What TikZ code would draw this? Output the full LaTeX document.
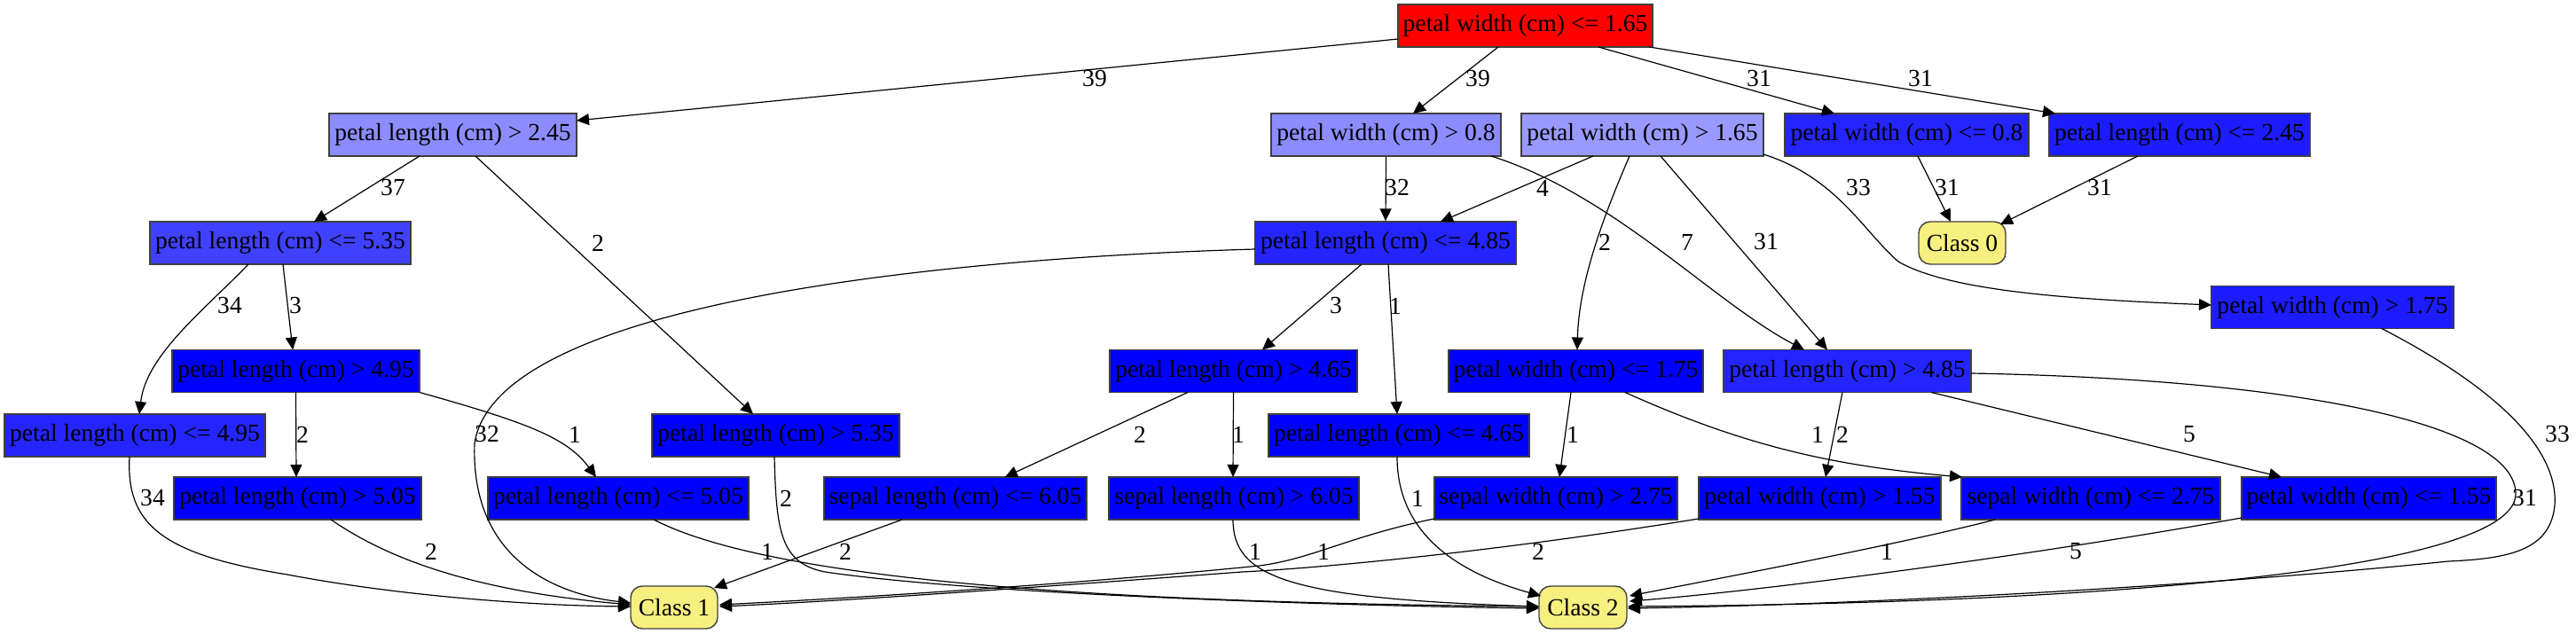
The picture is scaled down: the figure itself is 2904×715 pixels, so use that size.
\documentclass[tikz,border=0pt]{standalone}
\usepackage{fontspec}
\setmainfont{Liberation Serif}
\usetikzlibrary{arrows.meta,calc}
\definecolor{cred}{HTML}{FF0000}
\definecolor{clpa}{HTML}{8C8CFF}
\definecolor{clpb}{HTML}{9999FF}
\definecolor{cbfour}{HTML}{4040FF}
\definecolor{cbtwo}{HTML}{2424FF}
\definecolor{cbone}{HTML}{1C1CFF}
\definecolor{cbzero}{HTML}{0000FF}
\definecolor{clsy}{HTML}{F7EF80}
\begin{document}
\begin{tikzpicture}[x=0.5pt,y=-0.5pt,
  tbox/.style={draw=black!75, line width=0.7pt, minimum height=24pt, inner sep=0pt, font=\fontsize{13.8}{16}\selectfont, text=black},
  cls/.style={tbox, fill=clsy, rounded corners=6.5pt},
  wd/.style={minimum width=#1*0.5pt},
  edge/.style={draw=black, line width=0.6pt, -{Triangle[length=7pt,width=6.5pt]}},
  lbl/.style={font=\fontsize{13.8}{16}\selectfont, inner sep=0pt}]
\useasboundingbox (0,0) rectangle (2904,715);
% nodes
\node[tbox, fill=cred, wd=287] (root) at (1719.5,29) {petal width (cm) <= 1.65};
\node[tbox, fill=clpa, wd=279] (n2) at (510.5,152) {petal length (cm) > 2.45};
\node[tbox, fill=clpa, wd=259] (n3) at (1562.5,152) {petal width (cm) > 0.8};
\node[tbox, fill=clpb, wd=273] (n4) at (1851.5,152) {petal width (cm) > 1.65};
\node[tbox, fill=cbtwo, wd=275] (n5) at (2149.5,152) {petal width (cm) <= 0.8};
\node[tbox, fill=cbone, wd=294] (n6) at (2457,152) {petal length (cm) <= 2.45};
\node[tbox, fill=cbfour, wd=294] (n7) at (316,274) {petal length (cm) <= 5.35};
\node[tbox, fill=cbtwo, wd=294] (n8) at (1562,274) {petal length (cm) <= 4.85};
\node[cls, wd=98] (c0) at (2212,274) {Class 0};
\node[tbox, fill=cbone, wd=273] (n9) at (2629.5,346.5) {petal width (cm) > 1.75};
\node[tbox, fill=cbzero, wd=279] (n10) at (333.5,418.5) {petal length (cm) > 4.95};
\node[tbox, fill=cbzero, wd=279] (n11) at (1390.5,418.5) {petal length (cm) > 4.65};
\node[tbox, fill=cbzero, wd=287] (n12) at (1776.5,418.5) {petal width (cm) <= 1.75};
\node[tbox, fill=cbtwo, wd=279] (n13) at (2082.5,418.5) {petal length (cm) > 4.85};
\node[tbox, fill=cbtwo, wd=294] (n14) at (152,491) {petal length (cm) <= 4.95};
\node[tbox, fill=cbzero, wd=279] (n15) at (874.5,491) {petal length (cm) > 5.35};
\node[tbox, fill=cbzero, wd=294] (n16) at (1577,491) {petal length (cm) <= 4.65};
\node[tbox, fill=cbzero, wd=279] (n17) at (335.5,562) {petal length (cm) > 5.05};
\node[tbox, fill=cbzero, wd=294] (n18) at (697,562) {petal length (cm) <= 5.05};
\node[tbox, fill=cbzero, wd=296] (n19) at (1077,562) {sepal length (cm) <= 6.05};
\node[tbox, fill=cbzero, wd=282] (n20) at (1391,562) {sepal length (cm) > 6.05};
\node[tbox, fill=cbzero, wd=274] (n21) at (1754,562) {sepal width (cm) > 2.75};
\node[tbox, fill=cbzero, wd=273] (n22) at (2051.5,562) {petal width (cm) > 1.55};
\node[tbox, fill=cbzero, wd=292] (n23) at (2357,562) {sepal width (cm) <= 2.75};
\node[tbox, fill=cbzero, wd=287] (n24) at (2670.5,562) {petal width (cm) <= 1.55};
\node[cls, wd=98] (c1) at (760,685) {Class 1};
\node[cls, wd=99] (c2) at (1784.5,685) {Class 2};
% edges
\draw[edge] ($(root)+(-143.5,15)$) -- ($(n2)+(139.5,-16)$);
\draw[edge] ($(root)+(-30.5,24)$) -- ($(n3)+(30.5,-24)$);
\draw[edge] ($(root)+(82.5,24)$) -- ($(n5)+(-81.5,-24)$);
\draw[edge] ($(root)+(140,24)$) -- ($(n6)+(-140,-24)$);
\draw[edge] ($(n2)+(-37.5,24)$) -- ($(n7)+(38,-24)$);
\draw[edge] ($(n2)+(25.5,24)$) -- ($(n15)+(-25.5,-24)$);
\draw[edge] ($(n7)+(-36,24)$) .. controls (230,350) and (165,400) .. ($(n14)+(5,-24)$);
\draw[edge] ($(n7)+(3,24)$) -- ($(n10)+(-3.5,-24)$);
\draw[edge] ($(n10)+(0,24)$) -- ($(n17)+(-1.5,-24)$);
\draw[edge] ($(n10)+(139.5,24)$) .. controls (600,478) and (640,495) .. ($(n18)+(-25,-24)$);
\draw[edge] ($(n14)+(-6,24)$) .. controls (142,590) and (180,625) .. (324,648) .. controls (450,672) and (600,683) .. ($(c1)+(-49,-1)$);
\draw[edge] ($(n17)+(37.5,24)$) .. controls (430,625) and (520,665) .. ($(c1)+(-49,-3)$);
\draw[edge] ($(n8)+(-147,7)$) .. controls (1100,290) and (560,335) .. (535,500) .. controls (530,640) and (640,672) .. ($(c1)+(-49,-5)$);
\draw[edge] ($(n18)+(40,24)$) .. controls (880,660) and (1300,680) .. ($(c2)+(-49.5,-1)$);
\draw[edge] ($(n15)+(-1.5,24)$) .. controls (875,600) and (880,635) .. (930,645) .. controls (1100,670) and (1500,683) .. ($(c2)+(-49.5,1)$);
\draw[edge] (n3.south) -- (n8.north);
\draw[edge] ($(n3)+(118.5,24)$) .. controls (1820,220) and (1930,340) .. ($(n13)+(-48.5,-24)$);
\draw[edge] ($(n4)+(-55.5,24)$) -- ($(n8)+(62,-24)$);
\draw[edge] ($(n4)+(-14.5,24)$) .. controls (1805,250) and (1780,320) .. ($(n12)+(1.5,-24)$);
\draw[edge] ($(n4)+(20.5,24)$) -- ($(n13)+(-22.5,-24)$);
\draw[edge] ($(n4)+(136.5,22)$) .. controls (2070,200) and (2100,260) .. (2140,295) .. controls (2200,330) and (2350,338) .. ($(n9)+(-136.5,-2.5)$);
\draw[edge] ($(n5)+(12.5,24)$) -- ($(c0)+(-13,-24)$);
\draw[edge] ($(n6)+(-47,24)$) -- ($(c0)+(43,-21)$);
\draw[edge] ($(n8)+(-27,24)$) -- ($(n11)+(32.5,-24)$);
\draw[edge] ($(n8)+(3,24)$) -- ($(n16)+(-2,-24)$);
\draw[edge] ($(n11)+(-51.5,24)$) -- ($(n19)+(56,-24)$);
\draw[edge] ($(n11)+(0,24)$) -- ($(n20)+(-1,-24)$);
\draw[edge] ($(n16)+(-2,24)$) .. controls (1575,600) and (1640,645) .. ($(c2)+(-47.5,-13)$);
\draw[edge] ($(n19)+(-60,24)$) -- ($(c1)+(45,-22)$);
\draw[edge] ($(n20)+(-1,24)$) .. controls (1390,650) and (1450,675) .. ($(c2)+(-49.5,-1)$);
\draw[edge] ($(n12)+(-5.5,24)$) -- ($(n21)+(4,-24)$);
\draw[edge] ($(n12)+(55.5,24)$) .. controls (1960,500) and (2060,525) .. ($(n23)+(-145,-24)$);
\draw[edge] ($(n13)+(-5.5,24)$) -- ($(n22)+(6.5,-24)$);
\draw[edge] ($(n13)+(94.5,24)$) -- ($(n24)+(-98.5,-24)$);
\draw[edge] ($(n13)+(139.5,2.5)$) .. controls (2600,428) and (2836,480) .. (2836,557) .. controls (2836,640) and (2400,680) .. ($(c2)+(50.5,-1)$);
\draw[edge] ($(n9)+(55.5,24)$) .. controls (2800,430) and (2885,500) .. (2880,570) .. controls (2875,620) and (2830,630) .. (2760,633) .. controls (2500,660) and (2100,682) .. ($(c2)+(50.5,1)$);
\draw[edge] ($(n21)+(-137,23)$) .. controls (1520,605) and (1480,630) .. (1420,638) .. controls (1200,660) and (950,675) .. ($(c1)+(51,-3)$);
\draw[edge] ($(n22)+(-136.5,23)$) .. controls (1700,620) and (1500,640) .. (1400,645) .. controls (1200,660) and (950,678) .. ($(c1)+(51,-1)$);
\draw[edge] ($(n23)+(-108,24)$) .. controls (2150,612) and (1950,650) .. ($(c2)+(52.5,-13)$);
\draw[edge] ($(n24)+(-143.5,22)$) .. controls (2300,625) and (2000,665) .. ($(c2)+(52.5,-7)$);
% labels
\node[lbl] (l1) at (1234,89) {39};
\node[lbl] (l2) at (1666,89) {39};
\node[lbl] (l3) at (1983,89) {31};
\node[lbl] (l4) at (2165,89) {31};
\node[lbl] (l5) at (443,212) {37};
\node[lbl] (l6) at (674,274) {2};
\node[lbl] (l7) at (259,345) {34};
\node[lbl] (l8) at (333,345) {3};
\node[lbl] (l9) at (341,490) {2};
\node[lbl] (l10) at (648,490) {1};
\node[lbl] (l11) at (172,562) {34};
\node[lbl] (l12) at (486,622) {2};
\node[lbl] (l13) at (549,490) {32};
\node[lbl] (l14) at (865,622) {1};
\node[lbl] (l15) at (886,562) {2};
\node[lbl] (l16) at (1575,212) {32};
\node[lbl] (l17) at (1902,273) {7};
\node[lbl] (l18) at (1739,212) {4};
\node[lbl] (l19) at (1809,273) {2};
\node[lbl] (l20) at (1991,273) {31};
\node[lbl] (l21) at (2095,212) {33};
\node[lbl] (l22) at (2195,212) {31};
\node[lbl] (l23) at (2367,212) {31};
\node[lbl] (l24) at (1506,345) {3};
\node[lbl] (l25) at (1573,345) {1};
\node[lbl] (l26) at (1285,490) {2};
\node[lbl] (l27) at (1396,490) {1};
\node[lbl] (l28) at (1598,562) {1};
\node[lbl] (l29) at (953,622) {2};
\node[lbl] (l30) at (1415,622) {1};
\node[lbl] (l31) at (1773,490) {1};
\node[lbl] (l32) at (2049,490) {1};
\node[lbl] (l33) at (2077,490) {2};
\node[lbl] (l34) at (2468,490) {5};
\node[lbl] (l35) at (2846,562) {31};
\node[lbl] (l36) at (2883,490) {33};
\node[lbl] (l37) at (1492,622) {1};
\node[lbl] (l38) at (1734,622) {2};
\node[lbl] (l39) at (2127,622) {1};
\node[lbl] (l40) at (2340,622) {5};
\end{tikzpicture}
\end{document}
